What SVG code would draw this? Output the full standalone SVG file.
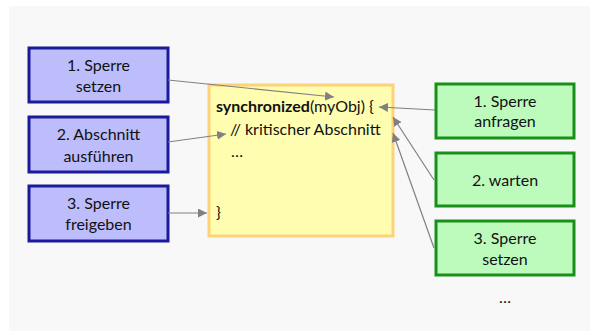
<svg xmlns="http://www.w3.org/2000/svg" width="590" height="331" viewBox="0 0 590 331">
<style>
text{font-family:Lato,"Open Sans","Liberation Sans",sans-serif;font-size:16px;fill:#111}
.blue{fill:#bdbdfb;stroke:#1a1a9a;stroke-width:3}
.green{fill:#bdfbbd;stroke:#1a8f1a;stroke-width:3}
.code{fill:#fffdb0;stroke:#fcd27a;stroke-width:3}
.c{text-anchor:middle}
.conn{stroke:#808080;stroke-width:1.2;fill:none;marker-end:url(#ah)}
</style>
<defs>
<marker id="ah" viewBox="0 0 10 10" refX="10" refY="5" markerWidth="9" markerHeight="9" markerUnits="userSpaceOnUse" orient="auto">
<path d="M0,0 L10,5 L0,10 z" fill="#808080"/>
</marker>
</defs>
<rect x="0" y="0" width="590" height="331" fill="#ffffff"/>
<rect x="9" y="6" width="581" height="325" fill="#f8f8f8"/>
<g id="code">
<rect class="code" x="209" y="85" width="184" height="151"/>
<text x="216" y="112"><tspan font-weight="bold">synchronized</tspan>(myObj) {</text>
<text x="230" y="135">// kritischer Abschnitt</text>
<text x="231" y="157">…</text>
<text x="216" y="218">}</text>
</g>
<g id="b1"><rect class="blue" x="29" y="48" width="139" height="54"/><text class="c" x="98.5" y="71">1. Sperre</text><text class="c" x="98.5" y="92">setzen</text></g>
<g id="b2"><rect class="blue" x="29" y="117" width="139" height="55"/><text class="c" x="98.5" y="140">2. Abschnitt</text><text class="c" x="98.5" y="162">ausführen</text></g>
<g id="b3"><rect class="blue" x="29" y="186" width="139" height="55"/><text class="c" x="98.5" y="209">3. Sperre</text><text class="c" x="98.5" y="230">freigeben</text></g>
<g id="g1"><rect class="green" x="436" y="84" width="138" height="54"/><text class="c" x="505" y="107">1. Sperre</text><text class="c" x="505" y="127">anfragen</text></g>
<g id="g2"><rect class="green" x="436" y="153" width="138" height="53"/><text class="c" x="505" y="186">2. warten</text></g>
<g id="g3"><rect class="green" x="436" y="221" width="138" height="54"/><text class="c" x="505" y="244">3. Sperre</text><text class="c" x="505" y="265">setzen</text></g>
<g id="more"><text class="c" x="505" y="303">…</text></g>
<g id="connectors">
<path class="conn" d="M168,80 L334,97"/>
<path class="conn" d="M168,142 L226,134"/>
<path class="conn" d="M168,213 L207,213"/>
<path class="conn" d="M435,110 L379,107"/>
<path class="conn" d="M434,180 L393,117"/>
<path class="conn" d="M434,248 L393,133"/>
</g>
</svg>
